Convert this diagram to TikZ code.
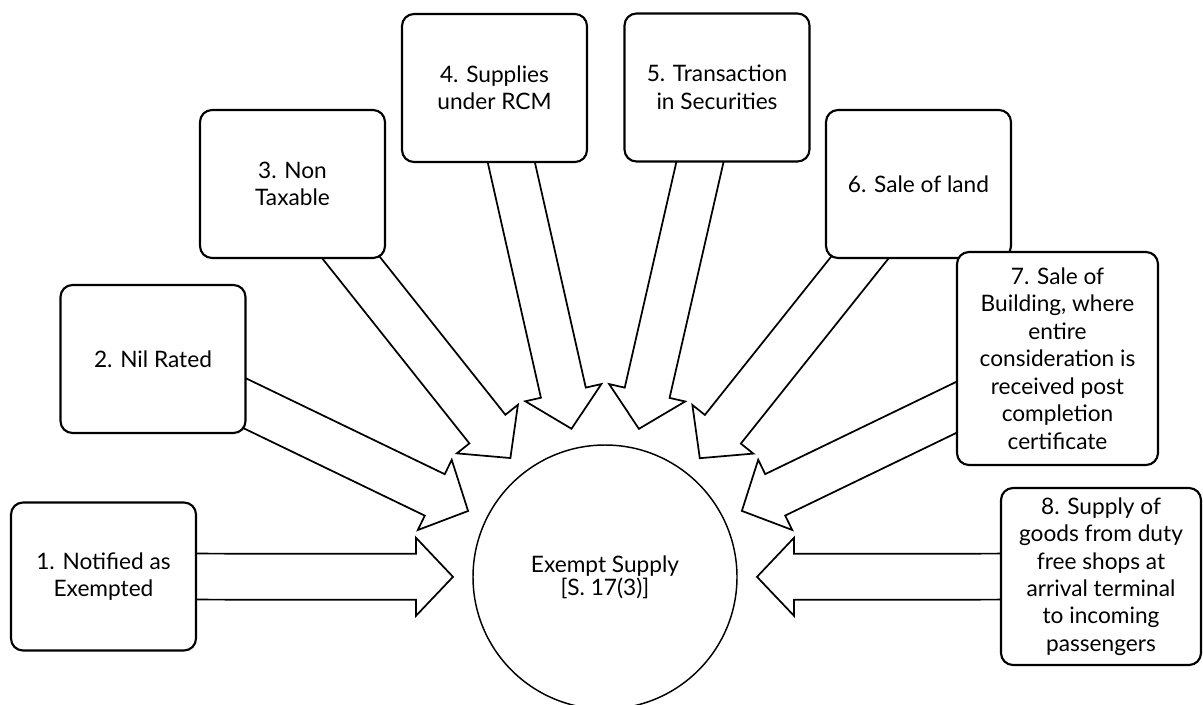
\documentclass[tikz,border=0pt]{standalone}
\usepackage{fontspec}
\setmainfont{Lato}
\usetikzlibrary{calc,backgrounds}

\tikzset{
  txt/.style={align=center, font=\fontsize{17}{20.6}\selectfont, text=black},
  box/.style={txt, draw, line width=1.6pt, rounded corners=9pt, fill=white,
    minimum width=138.75pt, minimum height=111pt, inner sep=2pt},
  hubstyle/.style={align=center, font=\fontsize{17}{17}\selectfont, text=black,
    circle, draw, line width=1.1pt, minimum size=198pt},
  barrow/.style={draw, line width=1.3pt, fill=white, line join=miter},
}

% Block arrow from the centre of a box to just outside the hub circle
\newcommand\blockarrow[1]{%
  \draw[barrow] let \p1=($(#1)-(hub)$), \n1={atan2(\y1,\x1)} in
    ($(hub)+(\n1:114pt)$)
    -- ($(hub)+(\n1:141.75pt)+(\n1+90:29.25pt)$)
    -- ($(hub)+(\n1:141.75pt)+(\n1+90:17.25pt)$)
    -- ($(#1)+(\n1+90:17.25pt)$)
    -- ($(#1)+(\n1-90:17.25pt)$)
    -- ($(hub)+(\n1:141.75pt)+(\n1-90:17.25pt)$)
    -- ($(hub)+(\n1:141.75pt)+(\n1-90:29.25pt)$)
    -- cycle;}

\begin{document}
\begin{tikzpicture}[x=0.75pt, y=0.75pt]
  \useasboundingbox (0,0) rectangle (1203,-704);
  \clip (0,0) rectangle (1203,-704);

  % centre
  \node[hubstyle] (hub) at (605,-577) {Exempt Supply\\{[S. 17(3)]}};

  % the eight categories
  \node[box] (b1) at (103.5,-576.5) {1. Notified as\\Exempted};
  \node[box] (b2) at (153,-359) {2. Nil Rated};
  \node[box] (b3) at (292.5,-184) {3. Non\\Taxable};
  \node[box] (b4) at (494.5,-88) {4. Supplies\\under RCM};
  \node[box] (b5) at (717,-87.5) {5. Transaction\\in Securities};
  \node[box] (b6) at (918.5,-184) {6. Sale of land};
  \node[box, minimum width=150.75pt, minimum height=159.75pt] (b7) at (1057.5,-358.5)
    {7. Sale of\\Building, where\\entire\\consideration is\\received post\\completion\\certificate};
  \node[box, minimum width=150pt, minimum height=132.75pt] (b8) at (1101,-576.5)
    {8. Supply of\\goods from duty\\free shops at\\arrival terminal\\to incoming\\passengers};

  % arrows behind the boxes
  \begin{pgfonlayer}{background}
    \foreach \b in {b1,b2,b3,b4,b5,b6,b7,b8} {\blockarrow{\b}}
  \end{pgfonlayer}
\end{tikzpicture}
\end{document}
